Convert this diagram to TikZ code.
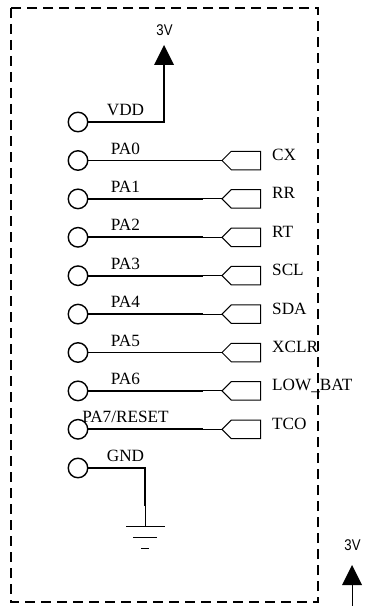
\documentclass[tikz,border=0pt]{standalone}
\usepackage{fontspec}
\setmainfont{Liberation Serif}
\newfontfamily\supplyfont[FakeStretch=0.85]{Liberation Sans}
\usetikzlibrary{shapes.geometric,shapes.symbols}
\def\pinx{78}
\def\lblx{125.5}
\def\splitx{203}
\def\portx{222}
\def\sigx{272}
\def\rowtop{160.5}
\def\rowstep{38.4}
\tikzset{
  wire/.style={line width=1.8pt},
  thinwire/.style={line width=1pt},
  pin/.style={circle, draw, line width=1.4pt, minimum size=19.5pt, inner sep=0pt, outer sep=0pt},
  port/.style={signal, signal to=west, signal from=nowhere, signal pointer angle=90, draw, line width=1pt, minimum width=38.5pt, minimum height=18.5pt, inner sep=0pt, outer sep=0pt, anchor=west},
  txt/.style={inner sep=0pt, font=\fontsize{17.2}{18}\selectfont},
  supply/.style={isosceles triangle, shape border rotate=90, isosceles triangle apex angle=53, isosceles triangle stretches, fill=black, minimum width=20pt, minimum height=20pt, inner sep=0pt, outer sep=0pt, anchor=apex},
  supplytxt/.style={inner sep=0pt, font=\supplyfont\fontsize{15.5}{17}\selectfont}
}

\begin{document}
\begin{tikzpicture}[x=1pt, y=-1pt]
\useasboundingbox (0,0) rectangle (376,607);

% board outline
\draw[line width=1.6pt, dash pattern=on 10pt off 6pt] (11,8) rectangle (318,602);

% supply pin
\node[pin] (pinvdd) at (\pinx,122) {};
\node[txt, anchor=base] (lblvdd) at (\lblx,115) {VDD};
\node[supply] (supvdd) at (164,45) {};
\node[supplytxt] (txtvdd) at (164.5,30.5) {3V};
\draw[wire] (pinvdd) -| (supvdd.lower side);

% signal rows
\foreach\pinname/\signame [count=\i from 0] in {PA0/CX,PA1/RR,PA2/RT,PA3/SCL,PA4/SDA,PA5/XCLR,PA6/LOW\_BAT,{PA7/RESET}/TCO}
    {
    \pgfmathsetmacro{\rowy}{\rowtop+\rowstep*\i}
    \node[pin] (pin\i) at (\pinx,\rowy) {};
    \node[port] (port\i) at (\portx,\rowy) {};
    \node[txt, anchor=base] (lbl\i) at (\lblx,\rowy-6.5) {\pinname};
    \node[txt, anchor=base west] (sig\i) at (\sigx,\rowy) {\signame};
    \coordinate (split\i) at (\splitx,\rowy);
    \draw[wire] (pin\i) -- (split\i);
    \draw[thinwire] (split\i) -- (port\i.west);
    }

% ground
\node[pin] (pingnd) at (\pinx,468) {};
\node[txt, anchor=base] (lblgnd) at (\lblx,461.5) {GND};
\coordinate (gndsplit) at (145,506);
\coordinate (gnd) at (145,526);
\draw[wire] (pingnd) -| (gndsplit);
\draw[thinwire] (gndsplit) -- (gnd);
\draw[thinwire] (126,526) -- (165,526);
\draw[thinwire] (133,537) -- (157,537);
\draw[thinwire] (141,548.5) -- (149,548.5);

% second supply, outside the board
\node[supply] (supext) at (352,565) {};
\node[supplytxt] (txtext) at (352.5,545) {3V};
\coordinate (extend) at (352,606);
\draw[thinwire] (supext.lower side) -- (extend);

\end{tikzpicture}
\end{document}
